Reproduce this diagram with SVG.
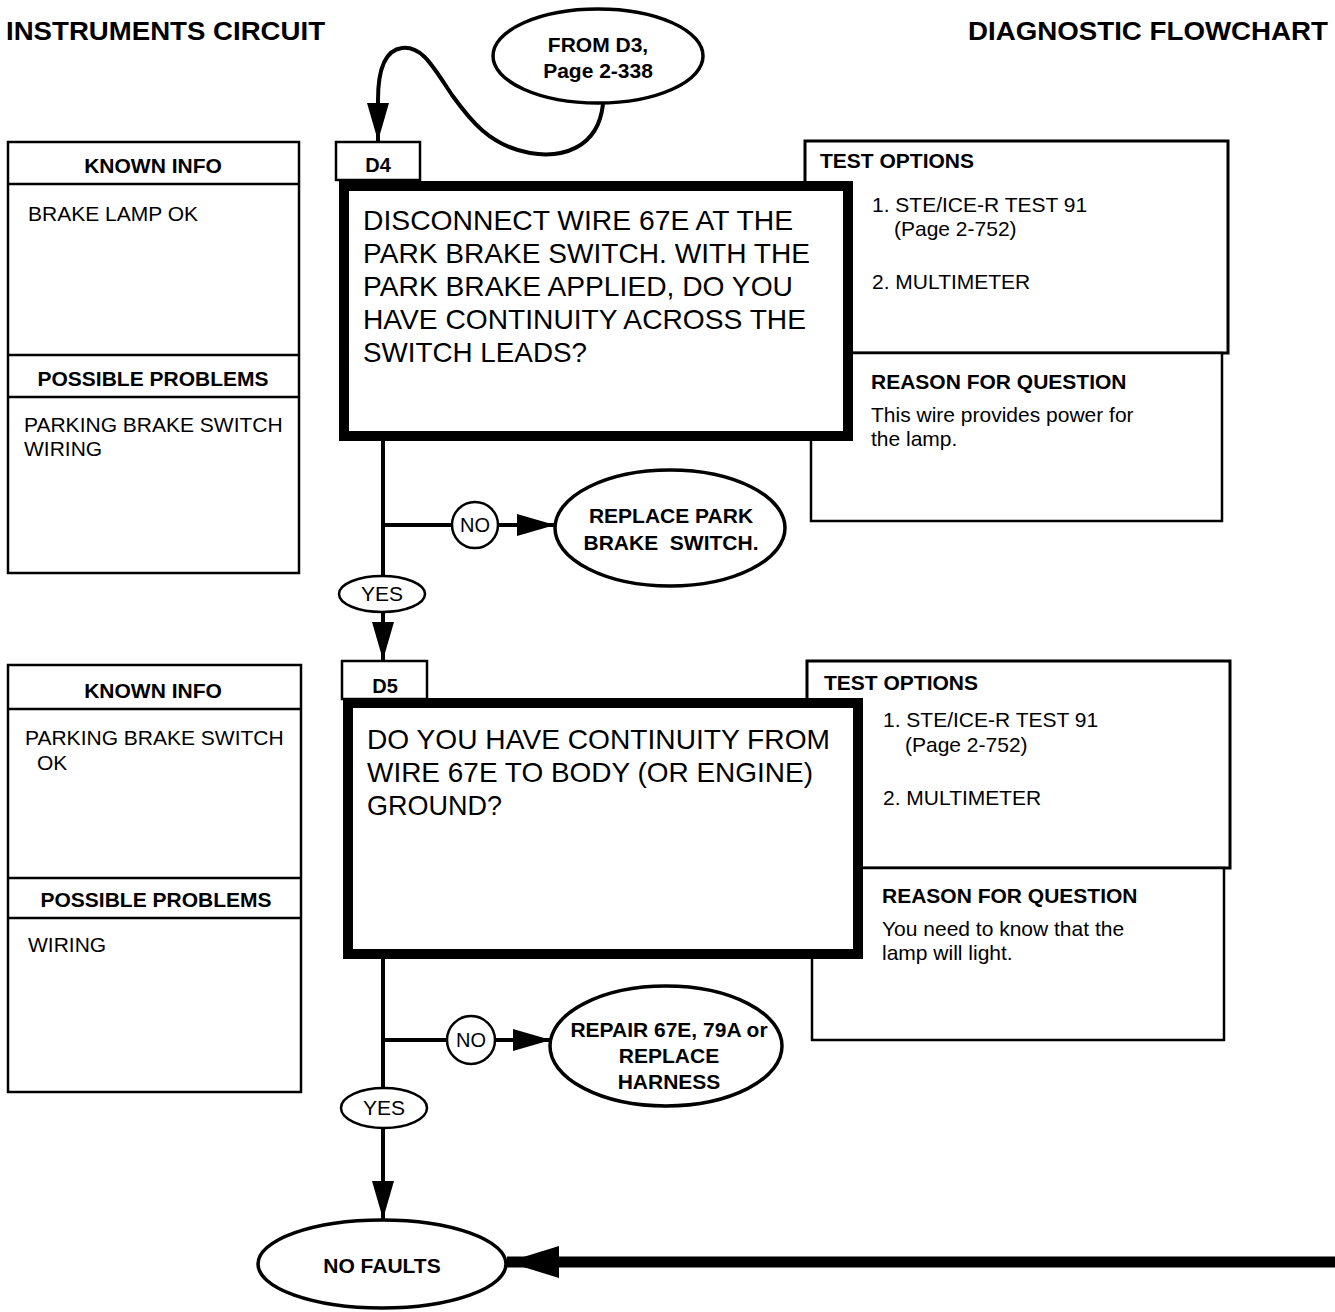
<svg xmlns="http://www.w3.org/2000/svg" width="1335" height="1312" viewBox="0 0 1335 1312">
<style>
text{font-family:"Liberation Sans",Arial,Helvetica,sans-serif;fill:#000}
.b{font-weight:bold}
.s21{font-size:21px}
.q{font-size:27.5px}
.c{text-anchor:middle}
.box{fill:#fff;stroke:#000;stroke-width:2.5}
.tbox{fill:#fff;stroke:#000;stroke-width:3}
.main{fill:#fff;stroke:#000;stroke-width:10}
.ell{fill:#fff;stroke:#000;stroke-width:3.5}
.lab{fill:#fff;stroke:#000;stroke-width:2.5}
.ln{stroke:#000;stroke-width:4;fill:none}
.div{stroke:#000;stroke-width:2.5}
</style>
<defs>
<marker id="arr" markerUnits="userSpaceOnUse" markerWidth="38" markerHeight="22" refX="38" refY="11" orient="auto"><path d="M0,0 L38,11 L0,22 z" fill="#000"/></marker>
<marker id="arrBig" markerUnits="userSpaceOnUse" markerWidth="52" markerHeight="32" refX="52" refY="16" orient="auto"><path d="M0,0 L52,16 L0,32 z" fill="#000"/></marker>
</defs>
<rect width="1335" height="1312" fill="#fff"/>

<g id="titles">
<text x="6" y="40" class="b" font-size="26" textLength="319" lengthAdjust="spacingAndGlyphs">INSTRUMENTS CIRCUIT</text>
<text x="968" y="40" class="b" font-size="26" textLength="360" lengthAdjust="spacingAndGlyphs">DIAGNOSTIC FLOWCHART</text>
</g>

<g id="connectors">
<path class="ln" d="M603,104 C598,150 560,158 530,153 C490,146 470,120 452,95 C432,65 422,46 402,48 C386,50 378,68 378,100 L378,141" marker-end="url(#arr)"/>
<line class="ln" x1="383" y1="441" x2="383" y2="577"/>
<line class="ln" x1="383" y1="612" x2="383" y2="660" marker-end="url(#arr)"/>
<line class="ln" x1="383" y1="525" x2="452" y2="525"/>
<line class="ln" x1="498" y1="525" x2="555" y2="525" marker-end="url(#arr)"/>
<line class="ln" x1="383" y1="958" x2="383" y2="1089"/>
<line class="ln" x1="383" y1="1127" x2="383" y2="1219" marker-end="url(#arr)"/>
<line class="ln" x1="383" y1="1040" x2="447" y2="1040"/>
<line class="ln" x1="495" y1="1040" x2="551" y2="1040" marker-end="url(#arr)"/>
<line x1="1335" y1="1262" x2="507" y2="1262" stroke="#000" stroke-width="11" marker-end="url(#arrBig)"/>
</g>

<g id="from_d3">
<ellipse class="ell" cx="598" cy="56" rx="105" ry="47"/>
<text x="598" y="52" class="b c s21">FROM D3,</text>
<text x="598" y="78" class="b c s21">Page 2-338</text>
</g>

<g id="known1">
<rect class="box" x="8" y="142" width="291" height="431"/>
<line class="div" x1="8" y1="184" x2="299" y2="184"/>
<line class="div" x1="8" y1="355" x2="299" y2="355"/>
<line class="div" x1="8" y1="397" x2="299" y2="397"/>
<text x="153" y="173" class="b c s21">KNOWN INFO</text>
<text x="28" y="221" class="s21">BRAKE LAMP OK</text>
<text x="153" y="386" class="b c s21">POSSIBLE PROBLEMS</text>
<text x="24" y="432" class="s21">PARKING BRAKE SWITCH</text>
<text x="24" y="456" class="s21">WIRING</text>
</g>

<g id="test1">
<rect class="tbox" x="805" y="141" width="423" height="212"/>
<text x="820" y="168" class="b s21">TEST OPTIONS</text>
<text x="872" y="212" class="s21">1. STE/ICE-R TEST 91</text>
<text x="894" y="236" class="s21">(Page 2-752)</text>
<text x="872" y="289" class="s21">2. MULTIMETER</text>
</g>

<g id="reason1">
<rect class="box" x="811" y="353" width="411" height="168"/>
<text x="871" y="389" class="b s21">REASON FOR QUESTION</text>
<text x="871" y="422" class="s21">This wire provides power for</text>
<text x="871" y="446" class="s21">the lamp.</text>
</g>

<g id="d4">
<rect class="main" x="344" y="186" width="504" height="250"/>
<text x="363" y="230" class="q" textLength="430" lengthAdjust="spacingAndGlyphs">DISCONNECT WIRE 67E AT THE</text>
<text x="363" y="263" class="q" textLength="447" lengthAdjust="spacingAndGlyphs">PARK BRAKE SWITCH. WITH THE</text>
<text x="363" y="296" class="q" textLength="430" lengthAdjust="spacingAndGlyphs">PARK BRAKE APPLIED, DO YOU</text>
<text x="363" y="329" class="q" textLength="443" lengthAdjust="spacingAndGlyphs">HAVE CONTINUITY ACROSS THE</text>
<text x="363" y="362" class="q" textLength="224" lengthAdjust="spacingAndGlyphs">SWITCH LEADS?</text>
</g>
<g id="d4_label">
<rect class="lab" x="336" y="142" width="84" height="38"/>
<text x="378" y="172" class="b c" font-size="20">D4</text>
</g>

<g id="no1">
<circle cx="475" cy="525" r="23" fill="#fff" stroke="#000" stroke-width="2.5"/>
<text x="475" y="532" class="c" font-size="20">NO</text>
</g>
<g id="replace_park">
<ellipse class="ell" cx="670" cy="528" rx="115" ry="58"/>
<text x="671" y="523" class="b c s21">REPLACE PARK</text>
<text x="671" y="550" class="b c s21" xml:space="preserve">BRAKE  SWITCH.</text>
</g>
<g id="yes1">
<ellipse cx="382" cy="594" rx="43" ry="18" fill="#fff" stroke="#000" stroke-width="2.5"/>
<text x="382" y="601" class="c" font-size="21">YES</text>
</g>

<g id="known2">
<rect class="box" x="8" y="665" width="293" height="427"/>
<line class="div" x1="8" y1="709" x2="301" y2="709"/>
<line class="div" x1="8" y1="878" x2="301" y2="878"/>
<line class="div" x1="8" y1="918" x2="301" y2="918"/>
<text x="153" y="698" class="b c s21">KNOWN INFO</text>
<text x="25" y="745" class="s21">PARKING BRAKE SWITCH</text>
<text x="37" y="770" class="s21">OK</text>
<text x="156" y="907" class="b c s21">POSSIBLE PROBLEMS</text>
<text x="28" y="952" class="s21">WIRING</text>
</g>

<g id="test2">
<rect class="tbox" x="807" y="661" width="423" height="207"/>
<text x="824" y="690" class="b s21">TEST OPTIONS</text>
<text x="883" y="727" class="s21">1. STE/ICE-R TEST 91</text>
<text x="905" y="752" class="s21">(Page 2-752)</text>
<text x="883" y="805" class="s21">2. MULTIMETER</text>
</g>

<g id="reason2">
<rect class="box" x="812" y="868" width="412" height="172"/>
<text x="882" y="903" class="b s21">REASON FOR QUESTION</text>
<text x="882" y="936" class="s21">You need to know that the</text>
<text x="882" y="960" class="s21">lamp will light.</text>
</g>

<g id="d5">
<rect class="main" x="348" y="703" width="510" height="251"/>
<text x="367" y="749" class="q" textLength="463" lengthAdjust="spacingAndGlyphs">DO YOU HAVE CONTINUITY FROM</text>
<text x="367" y="782" class="q" textLength="446" lengthAdjust="spacingAndGlyphs">WIRE 67E TO BODY (OR ENGINE)</text>
<text x="367" y="815" class="q" textLength="135" lengthAdjust="spacingAndGlyphs">GROUND?</text>
</g>
<g id="d5_label">
<rect class="lab" x="342" y="661" width="85" height="38"/>
<text x="385" y="693" class="b c" font-size="20">D5</text>
</g>

<g id="no2">
<circle cx="471" cy="1040" r="24" fill="#fff" stroke="#000" stroke-width="2.5"/>
<text x="471" y="1047" class="c" font-size="20">NO</text>
</g>
<g id="repair">
<ellipse class="ell" cx="666" cy="1046" rx="116" ry="60"/>
<text x="669" y="1037" class="b c s21">REPAIR 67E, 79A or</text>
<text x="669" y="1063" class="b c s21">REPLACE</text>
<text x="669" y="1089" class="b c s21">HARNESS</text>
</g>
<g id="yes2">
<ellipse cx="384" cy="1108" rx="43" ry="20" fill="#fff" stroke="#000" stroke-width="2.5"/>
<text x="384" y="1115" class="c" font-size="21">YES</text>
</g>

<g id="no_faults">
<ellipse class="ell" cx="382" cy="1264" rx="124" ry="44"/>
<text x="382" y="1273" class="b c s21">NO FAULTS</text>
</g>
</svg>
